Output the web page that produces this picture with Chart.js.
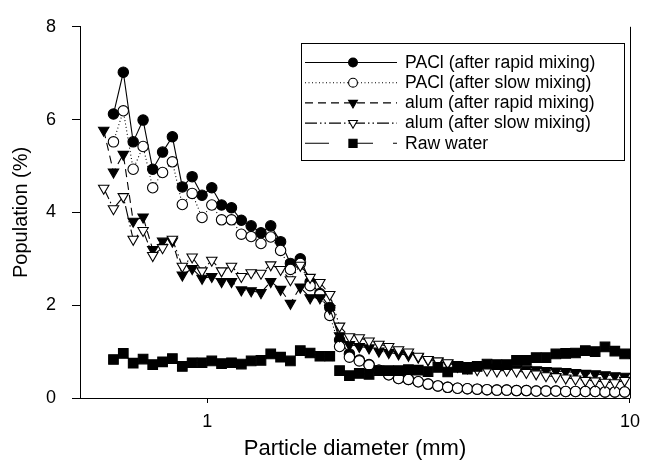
<!DOCTYPE html>
<html>
<head>
<meta charset="utf-8">
<script src="https://cdn.jsdelivr.net/npm/chart.js@4/dist/chart.umd.min.js"></script>
<style>
  html, body { margin: 0; padding: 0; background: #fff; }
  #wrap { width: 648px; height: 463px; }
</style>
</head>
<body>
<div id="wrap"><canvas id="c" width="648" height="463"></canvas></div>
<script>
// Particle diameter (mm) of each size class
const diameters = [0.569,0.600,0.633,0.668,0.705,0.743,0.784,0.827,0.873,0.921,0.972,1.025,1.081,1.141,1.204,1.270,1.340,1.413,1.491,1.573,1.660,1.751,1.847,1.949,2.056,2.169,2.289,2.414,2.547,2.687,2.835,2.991,3.156,3.329,3.512,3.705,3.909,4.124,4.351,4.590,4.843,5.109,5.390,5.687,5.999,6.329,6.677,7.045,7.432,7.841,8.272,8.727,9.207,9.713];

const paclRapid = [null,6.12,7.02,5.52,5.99,4.93,5.30,5.63,4.55,4.77,4.37,4.53,4.16,4.10,3.83,3.71,3.56,3.71,3.37,2.90,3.00,2.50,2.25,1.95,1.25,0.95,0.82,0.72,0.60,0.50,0.42,0.40,0.35,0.30,0.26,0.23,0.21,0.20,0.19,0.18,0.17,0.17,0.16,0.16,0.15,0.15,0.15,0.14,0.14,0.14,0.14,0.13,0.13,0.13];
const paclSlow = [null,5.52,6.19,4.93,5.42,4.53,4.86,5.09,4.17,4.41,3.89,4.16,3.84,3.84,3.53,3.48,3.33,3.47,3.18,2.77,2.90,2.42,2.23,1.78,1.11,0.88,0.80,0.71,0.60,0.50,0.42,0.40,0.35,0.30,0.26,0.23,0.21,0.20,0.19,0.18,0.17,0.17,0.16,0.16,0.15,0.15,0.15,0.14,0.14,0.14,0.14,0.13,0.13,0.13];
const alumRapid = [5.77,4.87,5.25,3.81,3.90,3.20,3.38,3.38,2.65,2.79,2.58,2.62,2.51,2.51,2.33,2.31,2.27,2.51,2.34,2.04,2.39,2.16,2.16,1.93,1.34,1.15,1.11,1.08,1.01,0.98,0.95,0.92,0.88,0.82,0.78,0.75,0.72,0.70,0.68,0.66,0.65,0.64,0.63,0.62,0.61,0.59,0.58,0.57,0.55,0.53,0.52,0.50,0.48,0.47];
const alumSlow = [4.52,4.08,4.34,3.42,3.61,3.07,3.24,3.42,2.84,3.04,2.74,2.97,2.74,2.84,2.62,2.70,2.69,2.87,2.77,2.55,2.86,2.60,2.49,2.23,1.55,1.32,1.30,1.23,1.16,1.11,1.04,0.99,0.90,0.83,0.80,0.76,0.68,0.65,0.61,0.60,0.58,0.60,0.58,0.55,0.52,0.48,0.46,0.43,0.41,0.38,0.37,0.34,0.33,0.38];
const rawWater = [null,0.83,0.96,0.75,0.84,0.72,0.78,0.85,0.68,0.76,0.76,0.80,0.74,0.76,0.73,0.80,0.81,0.95,0.88,0.80,1.02,0.97,0.90,0.90,0.59,0.48,0.53,0.51,0.59,0.59,0.59,0.61,0.60,0.57,0.66,0.56,0.66,0.62,0.68,0.73,0.72,0.72,0.81,0.81,0.87,0.87,0.95,0.96,0.97,1.02,1.00,1.10,1.01,0.95];

const seriesNames = ['PACl (after rapid mixing)','PACl (after slow mixing)','alum (after rapid mixing)','alum (after slow mixing)','Raw water'];
const xTicks = [1, 10];
const yTicks = [0, 2, 4, 6, 8];

const FONT = "'Liberation Sans', Arial, Helvetica, sans-serif";

function pts(arr) {
  const out = [];
  arr.forEach((v, i) => { if (v !== null) out.push({x: diameters[i], y: v}); });
  return out;
}

const styles = [
  {pointStyle:'circle', radius:5.2, rot:0, fill:'#000', dash:[]},
  {pointStyle:'circle', radius:5.2, rot:0, fill:'#fff', dash:[1,2.5]},
  {pointStyle:'triangle', radius:6, rot:180, fill:'#000', dash:[8,5]},
  {pointStyle:'triangle', radius:6, rot:180, fill:'#fff', dash:[12,3,1.5,3,1.5,3]},
  {pointStyle:'rect', radius:6.8, rot:0, fill:'#000', dash:[24,20]}
];
const allSeries = [paclRapid, paclSlow, alumRapid, alumSlow, rawWater];

const datasets = allSeries.map((s, k) => ({
  label: seriesNames[k],
  data: pts(s),
  borderColor: '#000',
  borderWidth: 1.1,
  borderDash: styles[k].dash,
  backgroundColor: styles[k].fill,
  pointStyle: styles[k].pointStyle,
  pointRadius: styles[k].radius,
  pointRotation: styles[k].rot,
  pointBackgroundColor: styles[k].fill,
  pointBorderColor: '#000',
  pointBorderWidth: 1.1,
  tension: 0,
  fill: false,
  clip: false,
  order: 5 - k
}));

function drawMarker(ctx, st, x, y, scale) {
  if (Chart.helpers && Chart.helpers.drawPoint) {
    ctx.fillStyle = st.fill;
    ctx.strokeStyle = '#000';
    ctx.lineWidth = 1.1;
    ctx.setLineDash([]);
    Chart.helpers.drawPoint(ctx, {pointStyle: st.pointStyle, rotation: st.rot, radius: st.radius * scale, borderWidth: 1.1}, x, y);
  }
}

const framePlugin = {
  id: 'frame',
  afterDatasetsDraw(chart) {
    const {ctx, chartArea} = chart;
    ctx.save();
    ctx.strokeStyle = '#000';
    ctx.lineWidth = 1;
    ctx.setLineDash([]);
    ctx.beginPath();
    ctx.moveTo(Math.round(chartArea.right) + 0.5, chartArea.top);
    ctx.lineTo(Math.round(chartArea.right) + 0.5, chartArea.bottom + 0.5);
    ctx.stroke();
    ctx.restore();
  },
  afterDraw(chart) {
    const ctx = chart.ctx;
    ctx.save();
    // legend box
    ctx.fillStyle = '#fff';
    ctx.fillRect(301, 43, 323, 117);
    ctx.strokeStyle = '#000';
    ctx.lineWidth = 1;
    ctx.setLineDash([]);
    ctx.strokeRect(301.5, 43.5, 323, 117);
    chart.data.datasets.forEach((ds, k) => {
      const y = 62.5 + k * 20.2;
      const st = styles[k];
      ctx.save();
      ctx.strokeStyle = '#000';
      ctx.lineWidth = 1.1;
      ctx.setLineDash(st.dash);
      ctx.beginPath();
      ctx.moveTo(305, y);
      ctx.lineTo(397, y);
      ctx.stroke();
      ctx.restore();
      ctx.save();
      drawMarker(ctx, st, 353, y, 0.85);
      ctx.restore();
      ctx.fillStyle = '#000';
      ctx.font = '17.6px ' + FONT;
      ctx.textBaseline = 'middle';
      ctx.textAlign = 'left';
      ctx.fillText(ds.label, 405, y + 0.5);
    });
    ctx.restore();
  }
};

new Chart(document.getElementById('c'), {
  type: 'line',
  data: { datasets },
  plugins: [framePlugin],
  options: {
    responsive: false,
    devicePixelRatio: 1,
    animation: false,
    events: [],
    layout: { padding: { top: 17, right: 12, left: 0, bottom: 0 } },
    plugins: { legend: { display: false }, tooltip: { enabled: false } },
    scales: {
      x: {
        type: 'logarithmic',
        min: 0.5,
        max: 10,
        afterBuildTicks(scale) { scale.ticks = xTicks.map(v => ({value: v})); },
        afterFit(scale) { scale.height = 65; },
        grid: { display: true, drawOnChartArea: false, drawTicks: true, tickLength: 5, color: '#000', tickColor: '#000', tickWidth: 1 },
        border: { display: true, color: '#000', width: 1 },
        ticks: { color: '#000', font: { family: FONT, size: 18 }, padding: 8, maxRotation: 0, autoSkip: false,
                 callback: (v) => String(v) },
        title: { display: true, text: 'Particle diameter (mm)', color: '#000', font: { family: FONT, size: 22, lineHeight: 1.2 }, padding: { top: 0, bottom: 1 } }
      },
      y: {
        type: 'linear',
        min: 0,
        max: 8,
        afterBuildTicks(scale) { scale.ticks = yTicks.map(v => ({value: v})); },
        afterFit(scale) { scale.width = 80; },
        grid: { display: true, drawOnChartArea: false, drawTicks: true, tickLength: 8, color: '#000', tickColor: '#000', tickWidth: 1 },
        border: { display: true, color: '#000', width: 1 },
        ticks: { color: '#000', font: { family: FONT, size: 18 }, padding: 16, callback: (v) => String(v) },
        title: { display: true, text: 'Population (%)', color: '#000', font: { family: FONT, size: 20, lineHeight: 1.2 }, padding: { top: 9, bottom: 0 } }
      }
    }
  }
});
</script>
</body>
</html>
